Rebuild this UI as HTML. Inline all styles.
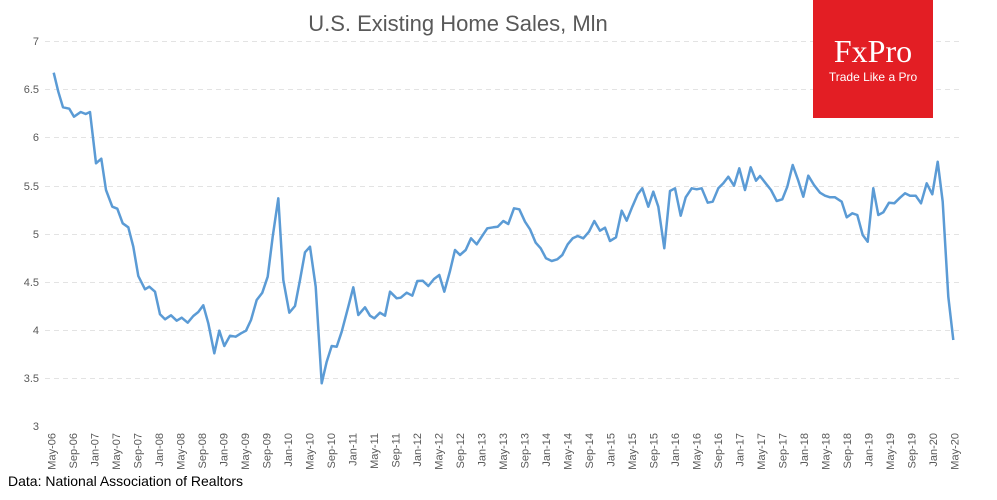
<!DOCTYPE html>
<html><head><meta charset="utf-8"><style>
html,body{margin:0;padding:0;background:#fff}
svg{display:block;font-family:"Liberation Sans",sans-serif}
</style></head><body>
<svg width="997" height="500" viewBox="0 0 997 500">
<text x="458" y="31" text-anchor="middle" font-size="22" fill="#595959">U.S. Existing Home Sales, Mln</text>
<g stroke="#e3e3e3" stroke-width="1" stroke-dasharray="5,4">
<line x1="45" x2="960" y1="41.5" y2="41.5"/><line x1="45" x2="960" y1="89.5" y2="89.5"/>
<line x1="45" x2="960" y1="137.5" y2="137.5"/><line x1="45" x2="960" y1="186.5" y2="186.5"/>
<line x1="45" x2="960" y1="234.5" y2="234.5"/><line x1="45" x2="960" y1="282.5" y2="282.5"/>
<line x1="45" x2="960" y1="330.5" y2="330.5"/><line x1="45" x2="960" y1="378.5" y2="378.5"/>
</g>
<g font-size="11" fill="#595959" text-anchor="end">
<text x="39" y="45">7</text><text x="39" y="93">6.5</text><text x="39" y="141">6</text><text x="39" y="190">5.5</text>
<text x="39" y="238">5</text><text x="39" y="286">4.5</text><text x="39" y="334">4</text><text x="39" y="382">3.5</text><text x="39" y="430">3</text>
</g>
<rect x="813" y="0" width="120" height="118" fill="#e31e24"/>
<text x="873" y="62" text-anchor="middle" font-family="Liberation Serif,serif" font-size="32" fill="#fff">FxPro</text>
<text x="873" y="81" text-anchor="middle" font-size="12" fill="#fff">Trade Like a Pro</text>
<polyline fill="none" stroke="#5b9bd5" stroke-width="2.5" stroke-linejoin="round" points="53.7,72.7 58.3,91.7 63,107.3 69.3,108.7 74,116.7 80.7,112 85.7,114 90,112 96,163.3 101.3,158.7 106,190 112.3,206.7 117.3,208.7 122.7,223.3 128.3,227.3 133.3,246.7 138.3,276 145,289.3 149.3,286.7 155,291.7 160,314.3 165,319.3 171,315.3 176.7,320.7 181.7,317.7 187.7,322.7 193.3,316 198.3,312 203.3,305.3 208.3,323.3 214.3,353.3 219.3,330.7 224.3,346 230,335.7 235.7,336.7 241,333.3 246,330.7 251,320 256.7,300 262.3,292.7 267.7,276.7 272.7,236.7 278.3,198.3 283.3,280 289.3,312.7 295,306 300,280 305,252.3 310,246.7 315.7,286.7 321.7,383.3 326.7,361.7 331.7,346 336.7,346.7 341.7,331.7 348.3,306.7 353.3,287.3 358.3,315 365,307.3 370,315.7 374.3,318.3 380,312.7 385,315.7 390,291.7 396.7,298.3 400.7,297.7 406.7,292.7 412.3,295.7 417.3,281 422.7,280.7 428.3,286 434,279 439.3,275 444.3,291.7 450,271 455,250 460,255 465.7,250 471,238.3 476.7,244.3 481.7,236.7 487.3,228.3 493.3,227.3 497.7,226.7 503.3,221 508.3,224 514,208.3 519.3,209.3 525,221.7 530,229.3 535.7,242.7 540.7,248.3 546,258.3 551.7,261 557.3,259.3 562.3,255 567.7,244.3 572.7,238.3 577.7,236 583.3,238.3 589,231.7 594.3,221 600,230.7 605,227.7 610,241 616,237.3 621.7,210.7 626.7,220.7 632.3,206.7 637.7,194.3 642.3,188.3 648.3,206.7 653.3,191.7 658.3,206.7 664.3,248.3 670,191 675,188.3 680.7,215.7 685.7,197.3 691.7,188.3 696.7,189.3 701.7,188.3 707.7,202.7 712.7,201.7 718.3,188.3 723.3,183.3 728.3,176.7 734,185.7 739.3,168.3 745,190 750.7,167.3 756,180.7 760,176 765.7,183.3 771,190 776.7,201 782.3,199.3 787.3,186.7 792.7,165 798.3,180.7 803.3,196.7 808.3,175.7 814,185 820,192.7 825,195.7 830,197.3 835,197.3 841.7,201.7 846.7,217.3 852.3,213.3 857.3,215 862.7,235 867.7,241.7 873.3,188.3 878.3,215 883.3,212.3 889,202.7 894.3,203.3 900,197.7 905,193.3 910,195.7 915.7,195.7 921,203.3 926.7,183.3 932.3,194.3 937.7,161.7 942.7,201.7 948.3,296.7 953.3,340"/>
<g font-size="11" fill="#595959" text-anchor="end">
<text transform="translate(55.5,433) rotate(-90)">May-06</text>
<text transform="translate(77,433) rotate(-90)">Sep-06</text>
<text transform="translate(98.5,433) rotate(-90)">Jan-07</text>
<text transform="translate(120,433) rotate(-90)">May-07</text>
<text transform="translate(141.5,433) rotate(-90)">Sep-07</text>
<text transform="translate(163,433) rotate(-90)">Jan-08</text>
<text transform="translate(184.5,433) rotate(-90)">May-08</text>
<text transform="translate(206,433) rotate(-90)">Sep-08</text>
<text transform="translate(227.5,433) rotate(-90)">Jan-09</text>
<text transform="translate(249,433) rotate(-90)">May-09</text>
<text transform="translate(270.5,433) rotate(-90)">Sep-09</text>
<text transform="translate(292,433) rotate(-90)">Jan-10</text>
<text transform="translate(313.5,433) rotate(-90)">May-10</text>
<text transform="translate(335,433) rotate(-90)">Sep-10</text>
<text transform="translate(356.5,433) rotate(-90)">Jan-11</text>
<text transform="translate(378,433) rotate(-90)">May-11</text>
<text transform="translate(399.5,433) rotate(-90)">Sep-11</text>
<text transform="translate(421,433) rotate(-90)">Jan-12</text>
<text transform="translate(442.5,433) rotate(-90)">May-12</text>
<text transform="translate(464,433) rotate(-90)">Sep-12</text>
<text transform="translate(485.5,433) rotate(-90)">Jan-13</text>
<text transform="translate(507,433) rotate(-90)">May-13</text>
<text transform="translate(528.5,433) rotate(-90)">Sep-13</text>
<text transform="translate(550,433) rotate(-90)">Jan-14</text>
<text transform="translate(571.5,433) rotate(-90)">May-14</text>
<text transform="translate(593,433) rotate(-90)">Sep-14</text>
<text transform="translate(614.5,433) rotate(-90)">Jan-15</text>
<text transform="translate(636,433) rotate(-90)">May-15</text>
<text transform="translate(657.5,433) rotate(-90)">Sep-15</text>
<text transform="translate(679,433) rotate(-90)">Jan-16</text>
<text transform="translate(700.5,433) rotate(-90)">May-16</text>
<text transform="translate(722,433) rotate(-90)">Sep-16</text>
<text transform="translate(743.5,433) rotate(-90)">Jan-17</text>
<text transform="translate(765,433) rotate(-90)">May-17</text>
<text transform="translate(786.5,433) rotate(-90)">Sep-17</text>
<text transform="translate(808,433) rotate(-90)">Jan-18</text>
<text transform="translate(829.5,433) rotate(-90)">May-18</text>
<text transform="translate(851,433) rotate(-90)">Sep-18</text>
<text transform="translate(872.5,433) rotate(-90)">Jan-19</text>
<text transform="translate(894,433) rotate(-90)">May-19</text>
<text transform="translate(915.5,433) rotate(-90)">Sep-19</text>
<text transform="translate(937,433) rotate(-90)">Jan-20</text>
<text transform="translate(958.5,433) rotate(-90)">May-20</text>
</g>
<text x="8" y="486" font-size="14" fill="#000">Data: National Association of Realtors</text>
</svg>
</body></html>
